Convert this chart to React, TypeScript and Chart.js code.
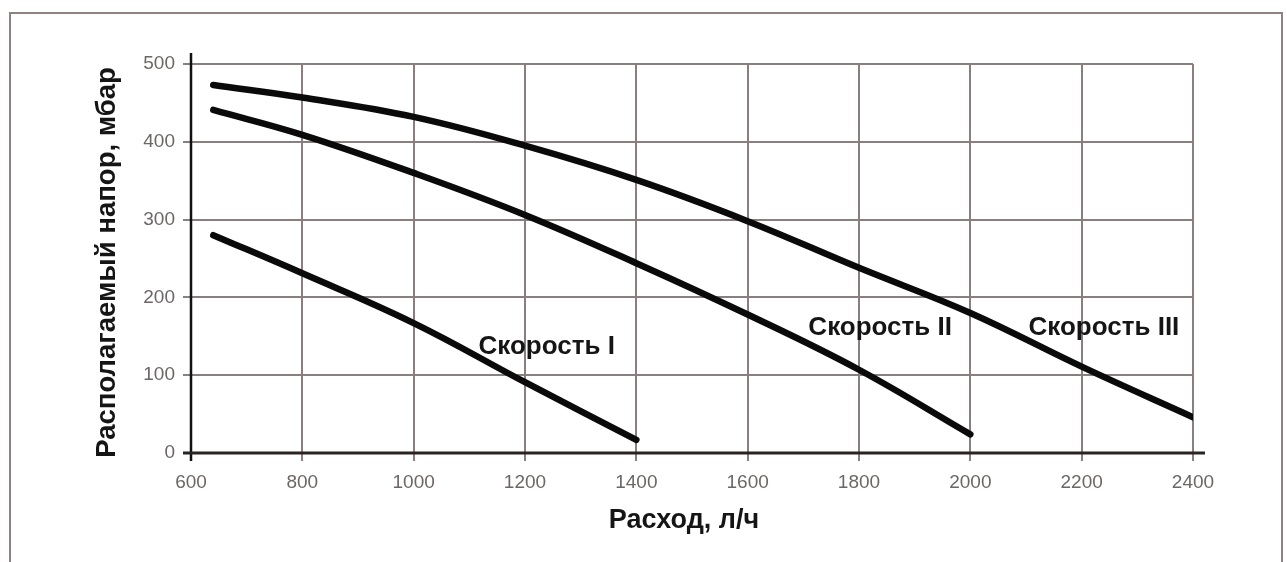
import React, { useEffect, useRef } from "react";
import { Chart, registerables } from "chart.js";

Chart.register(...registerables);

// ---- data ----
const xTicks = [600, 800, 1000, 1200, 1400, 1600, 1800, 2000, 2200, 2400];
const yTicks = [0, 100, 200, 300, 400, 500];

const speed1X = [640, 800, 1000, 1200, 1400];
const speed1Y = [280, 231, 167, 91, 17];

const speed2X = [640, 800, 1000, 1200, 1400, 1600, 1800, 2000];
const speed2Y = [441, 409, 360, 306, 244, 178, 107, 24];

const speed3X = [640, 800, 1000, 1200, 1400, 1600, 1800, 2000, 2200, 2400];
const speed3Y = [473, 457, 432, 395, 351, 298, 238, 180, 111, 46];

const seriesNames = ["Скорость I", "Скорость II", "Скорость III"];
// label anchors in data units (flow, pressure)
const labelX = [1239, 1838, 2240];
const labelY = [136, 161, 161];

const xTitle = "Расход, л/ч";
const yTitle = "Располагаемый напор, мбар";

const FONT = '"Liberation Sans", Arial, Helvetica, sans-serif';

function toPoints(xs: number[], ys: number[]) {
  return xs.map((x, i) => ({ x, y: ys[i] }));
}

const overlayPlugin = {
  id: "overlay",
  afterDraw(chart: any) {
    const ctx = chart.ctx as CanvasRenderingContext2D;
    const xs = chart.scales.x;
    const ys = chart.scales.y;
    const x0 = xs.getPixelForValue(xTicks[0]);
    const x1 = xs.getPixelForValue(xTicks[xTicks.length - 1]);
    const y0 = ys.getPixelForValue(yTicks[0]);
    const y1 = ys.getPixelForValue(yTicks[yTicks.length - 1]);
    ctx.save();
    // axes
    ctx.strokeStyle = "#111";
    ctx.lineWidth = 2.5;
    ctx.beginPath();
    ctx.moveTo(x0, y1 - 11);
    ctx.lineTo(x0, y0 + 8);
    ctx.stroke();
    ctx.strokeStyle = "#2a2323";
    ctx.lineWidth = 3;
    ctx.beginPath();
    ctx.moveTo(x0 - 8, y0);
    ctx.lineTo(x1 + 12, y0);
    ctx.stroke();

    // series labels
    ctx.fillStyle = "#151515";
    ctx.font = `bold 26px ${FONT}`;
    ctx.textAlign = "center";
    ctx.textBaseline = "middle";
    seriesNames.forEach((n, i) => {
      ctx.fillText(n, xs.getPixelForValue(labelX[i]), ys.getPixelForValue(labelY[i]));
    });

    // axis titles
    ctx.font = `bold 27px ${FONT}`;
    ctx.fillText(xTitle, (x0 + x1) / 2 - 8, y0 + 68);
    ctx.translate(x0 - 84, (y0 + y1) / 2 + 4);
    ctx.rotate(-Math.PI / 2);
    ctx.font = `bold 27.5px ${FONT}`;
    ctx.fillText(yTitle, 0, 0);
    ctx.restore();
  },
};

export default function App() {
  const ref = useRef<HTMLCanvasElement | null>(null);

  useEffect(() => {
    if (!ref.current) return;
    const lineStyle = {
      borderColor: "#0a0a0a",
      borderWidth: 6.5,
      pointRadius: 0,
      fill: false,
      tension: 0.4,
      borderCapStyle: "round" as const,
    };
    const chart = new Chart(ref.current, {
      type: "line",
      data: {
        datasets: [
          { label: seriesNames[0], data: toPoints(speed1X, speed1Y), ...lineStyle },
          { label: seriesNames[1], data: toPoints(speed2X, speed2Y), ...lineStyle },
          { label: seriesNames[2], data: toPoints(speed3X, speed3Y), ...lineStyle },
        ],
      },
      options: {
        animation: false,
        responsive: false,
        parsing: false as any,
        layout: { padding: { left: 0, right: 94, top: 64, bottom: 0 } },
        plugins: {
          legend: { display: false },
          tooltip: { enabled: false },
          title: { display: false },
        },
        scales: {
          x: {
            type: "linear",
            min: xTicks[0],
            max: xTicks[xTicks.length - 1],
            afterBuildTicks: (s: any) => {
              s.ticks = xTicks.map((v) => ({ value: v }));
            },
            afterFit: (s: any) => {
              s.height = 109;
            },
            grid: { color: "#8a7f7f", lineWidth: 2, tickLength: 8, tickColor: "#8a7f7f" },
            border: { display: false },
            ticks: {
              color: "#6e6666",
              font: { family: FONT, size: 19 },
              padding: 10,
              maxRotation: 0,
              autoSkip: false,
              callback: (v: any) => String(v),
            },
          },
          y: {
            type: "linear",
            min: yTicks[0],
            max: yTicks[yTicks.length - 1],
            afterBuildTicks: (s: any) => {
              s.ticks = yTicks.map((v) => ({ value: v }));
            },
            afterFit: (s: any) => {
              s.width = 191;
            },
            grid: { color: "#8a7f7f", lineWidth: 2, tickLength: 8, tickColor: "#8a7f7f" },
            border: { display: false },
            ticks: {
              color: "#6e6666",
              font: { family: FONT, size: 19 },
              padding: 8,
              autoSkip: false,
              callback: (v: any) => String(v),
            },
          },
        },
      },
      plugins: [overlayPlugin],
    });
    return () => chart.destroy();
  }, []);

  return (
    <div
      style={{
        position: "fixed",
        left: 0,
        top: 0,
        width: 1287,
        height: 562,
        overflow: "hidden",
        background: "#fff",
      }}
    >
      <div
        style={{
          position: "absolute",
          left: 9,
          top: 12,
          width: 1274,
          height: 600,
          boxSizing: "border-box",
          border: "2px solid #8c8282",
        }}
      />
      <canvas
        ref={ref}
        width={1287}
        height={562}
        style={{ position: "absolute", left: 0, top: 0, width: 1287, height: 562 }}
      />
    </div>
  );
}
